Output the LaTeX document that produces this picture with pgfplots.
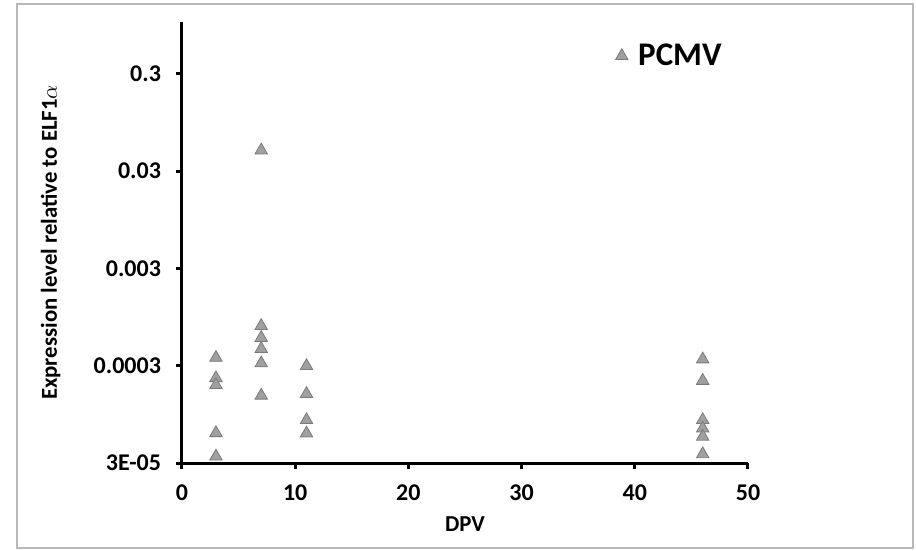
\documentclass[border=0pt]{standalone}
\usepackage{fontspec}
\setmainfont{Carlito}
\usepackage{pgfplots}
\pgfplotsset{compat=1.18}
\definecolor{mfill}{HTML}{A0A0A0}
\definecolor{medge}{HTML}{7A7A7A}
\begin{document}
\begin{tikzpicture}
\path[use as bounding box] (-91pt,-44pt) rectangle (367pt,231.5pt);
\draw[gray!55, line width=0.6pt] (-82.5pt,-42.5pt) rectangle (365.5pt,229.5pt);
\begin{axis}[
  scale only axis,
  width=283pt, height=220.5pt,
  ymode=log,
  xmin=0, xmax=50, ymin=3e-5, ymax=1.02,
  xtick={0,10,20,30,40,50},
  ytick={3e-5,3e-4,3e-3,3e-2,0.3},
  yticklabels={3E-05,0.0003,0.003,0.03,0.3},
  yminorticks=false,
  axis x line*=bottom, axis y line*=left,
  axis line style={line width=1.5pt},
  tick style={line width=1.5pt, black},
  tick align=outside, major tick length=3pt,
  ticklabel style={font=\bfseries\fontsize{12}{14}\selectfont},
  xticklabel style={yshift=-4.5pt},
  yticklabel style={xshift=-4pt},
  /pgf/number format/assume math mode=true,
  xlabel={DPV},
  ylabel={Expression level relative to ELF1$\alpha$},
  label style={font=\bfseries\fontsize{11.4}{13}\selectfont},
  xlabel style={at={(axis description cs:0.5,-0.138)}, anchor=center},
  ylabel style={at={(axis description cs:-0.232,0.5)}, anchor=center},
  clip=false,
  legend style={at={(0.7615,0.923)}, anchor=west, draw=none, fill=none,
    inner sep=0pt, font=\bfseries\fontsize{16.5}{19}\selectfont},
  legend image code/.code={\draw[#1] plot coordinates {(0pt,0pt)}; \path (-4pt,0pt) (6pt,0pt);},
]
\addplot[only marks, mark=triangle*, mark size=3.6pt,
  mark options={fill=mfill, draw=medge, line width=0.4pt}]
  coordinates {
  (3,3.62e-4) (3,2.24e-4) (3,1.90e-4) (3,6.1e-5) (3,3.5e-5)
  (7,0.049) (7,7.7e-4) (7,5.8e-4) (7,4.46e-4) (7,3.18e-4) (7,1.48e-4)
  (11,2.98e-4) (11,1.54e-4) (11,8.3e-5) (11,6.05e-5)
  (46,3.49e-4) (46,2.1e-4) (46,8.3e-5) (46,6.8e-5) (46,5.6e-5) (46,3.7e-5)
  };
\addlegendentry{PCMV}
\end{axis}
\end{tikzpicture}
\end{document}
